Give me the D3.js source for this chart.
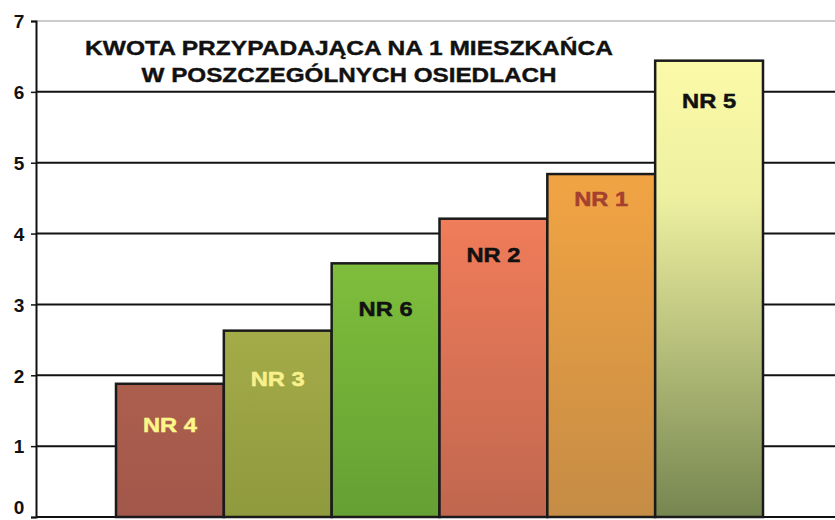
<!DOCTYPE html>
<html>
<head>
<meta charset="utf-8">
<script src="https://cdn.jsdelivr.net/npm/d3@7"></script>
<style>
  body { margin: 0; background: #fff; }
  svg { display: block; }
</style>
</head>
<body>
<svg id="chart" width="835" height="520"></svg>
<script>
// data
const districts = ["NR 4", "NR 3", "NR 6", "NR 2", "NR 1", "NR 5"];
const amounts = [1.88, 2.63, 3.58, 4.21, 4.84, 6.44];
const labelAt = [1.3, 1.96, 2.95, 3.7, 4.5, 5.88];
const yTicks = [0, 1, 2, 3, 4, 5, 6, 7];
const titleLines = ["KWOTA PRZYPADAJĄCA NA 1 MIESZKAŃCA", "W POSZCZEGÓLNYCH OSIEDLACH"];

// bar colours: top, bottom, label
const topCols = ["#ad5f4e", "#a4ab48", "#7fbe3c", "#f07c5a", "#f2a443", "#fbfaa8"];
const botCols = ["#a1574a", "#8f9a3e", "#64a033", "#c0674f", "#c58c45", "#768650"];
const labelCols = ["#fbf58a", "#f8f08c", "#111", "#111", "#a4402f", "#111"];

const svg = d3.select("#chart");
const W = 835;

let y = d3.scaleLinear().domain([0, 7]).range([517, 21]);
let x = d3.scaleBand().domain(districts).range([116, 763]).paddingInner(0).paddingOuter(0);
const axisX = 36;

// gradients
let defs = svg.append("defs");
districts.forEach((d, i) => {
	let g = defs.append("linearGradient")
		.attr("id", "g" + i)
		.attr("x1", 0).attr("y1", 0).attr("x2", 0).attr("y2", 1);
	g.append("stop").attr("offset", "0%").attr("stop-color", topCols[i]);
	if (i == 5) g.append("stop").attr("offset", "30%").attr("stop-color", "#eef0a0");
	g.append("stop").attr("offset", "100%").attr("stop-color", botCols[i]);
});

// gridlines
svg.append("g")
	.selectAll("line")
	.data(yTicks.filter(t => t > 0))
	.join("line")
	.attr("x1", axisX).attr("x2", W)
	.attr("y1", d => y(d)).attr("y2", d => y(d))
	.attr("stroke", d => d == 7 ? "#999" : "#111")
	.attr("stroke-width", d => d == 7 ? 1 : 2);

// y axis
let yAxis = d3.axisLeft(y).tickValues(yTicks).tickSize(5).tickFormat(d3.format("d"));
let ax = svg.append("g")
	.attr("transform", `translate(${axisX},0)`)
	.call(yAxis);
ax.select(".domain").attr("stroke", "#111").attr("stroke-width", 2);
ax.selectAll(".tick line").attr("stroke", "#111").attr("stroke-width", 1.5);
ax.selectAll(".tick text")
	.attr("x", -17)
	.attr("text-anchor", "middle")
	.attr("dy", d => d == 0 ? "-0.2em" : "0.36em")
	.style("font-family", "Liberation Sans, Arial, sans-serif")
	.style("font-weight", "bold")
	.style("font-size", "19px")
	.attr("fill", "#111");

// bottom axis
svg.append("line")
	.attr("x1", axisX).attr("x2", W)
	.attr("y1", y(0)).attr("y2", y(0))
	.attr("stroke", "#111").attr("stroke-width", 2);

// bars
svg.append("g")
	.selectAll("rect")
	.data(districts)
	.join("rect")
	.attr("x", d => x(d))
	.attr("width", x.bandwidth())
	.attr("y", (d, i) => y(amounts[i]))
	.attr("height", (d, i) => y(0) - y(amounts[i]))
	.attr("fill", (d, i) => `url(#g${i})`)
	.attr("stroke", "#1a1a1a")
	.attr("stroke-width", 2.5);

// bar labels
svg.append("g")
	.selectAll("text")
	.data(districts)
	.join("text")
	.attr("x", d => x(d) + x.bandwidth() / 2)
	.attr("y", (d, i) => y(labelAt[i]))
	.attr("dy", "0.36em")
	.attr("text-anchor", "middle")
	.style("font-family", "Liberation Sans, Arial, sans-serif")
	.style("font-weight", "bold")
	.style("font-size", "21px")
	.attr("textLength", 54)
	.attr("lengthAdjust", "spacingAndGlyphs")
	.attr("fill", (d, i) => labelCols[i])
	.attr("stroke", (d, i) => labelCols[i])
	.attr("stroke-width", 0.5)
	.text(d => d);

// title
let titleLen = [528, 415];
svg.append("g")
	.selectAll("text")
	.data(titleLines)
	.join("text")
	.attr("x", 349)
	.attr("y", (d, i) => 55 + i * 27)
	.attr("text-anchor", "middle")
	.style("font-family", "Liberation Sans, Arial, sans-serif")
	.style("font-weight", "bold")
	.style("font-size", "21px")
	.attr("textLength", (d, i) => titleLen[i])
	.attr("lengthAdjust", "spacingAndGlyphs")
	.attr("fill", "#111")
	.attr("stroke", "#111")
	.attr("stroke-width", 0.4)
	.text(d => d);
</script>
</body>
</html>
